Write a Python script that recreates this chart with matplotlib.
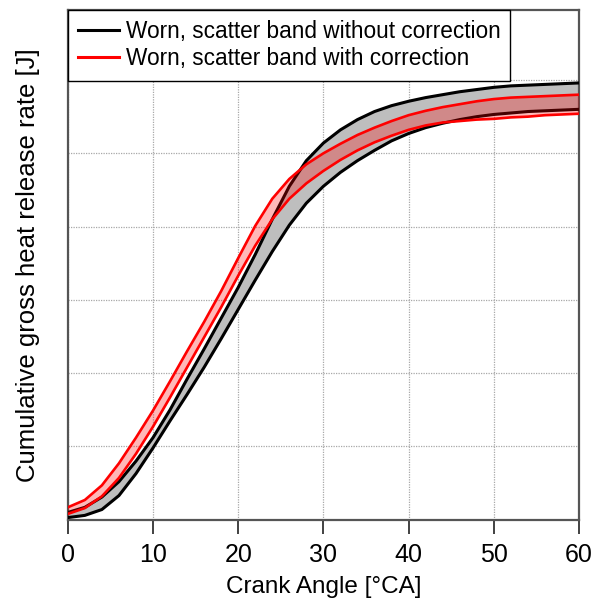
import matplotlib.pyplot as plt
import numpy as np
from matplotlib.lines import Line2D

plt.rcParams["font.family"] = ["Liberation Sans", "DejaVu Sans"]

# crank angle [°CA]
crank_angle = np.arange(0, 61, 2)

# scatter band without correction (black), in grid units
black_upper = [0.10, 0.17, 0.31, 0.52, 0.80, 1.12, 1.50, 1.92, 2.33, 2.75,
               3.17, 3.62, 4.10, 4.55, 4.90, 5.14, 5.32, 5.46, 5.57, 5.65,
               5.71, 5.76, 5.80, 5.84, 5.87, 5.90, 5.92, 5.93, 5.94, 5.95, 5.96]
black_lower = [0.03, 0.06, 0.14, 0.33, 0.63, 0.98, 1.35, 1.71, 2.08, 2.47,
               2.87, 3.27, 3.66, 4.02, 4.32, 4.55, 4.74, 4.90, 5.04, 5.17,
               5.27, 5.35, 5.41, 5.46, 5.50, 5.53, 5.55, 5.57, 5.58, 5.59, 5.60]

# scatter band with correction (red)
red_upper = [0.17, 0.27, 0.47, 0.77, 1.12, 1.49, 1.89, 2.30, 2.70, 3.12,
             3.57, 4.01, 4.38, 4.65, 4.85, 5.00, 5.13, 5.25, 5.35, 5.44,
             5.52, 5.58, 5.63, 5.67, 5.71, 5.74, 5.76, 5.77, 5.78, 5.79, 5.80]
red_lower = [0.08, 0.16, 0.32, 0.57, 0.90, 1.27, 1.67, 2.08, 2.49, 2.90,
             3.33, 3.74, 4.10, 4.38, 4.59, 4.76, 4.91, 5.04, 5.15, 5.24,
             5.32, 5.38, 5.42, 5.44, 5.46, 5.47, 5.49, 5.50, 5.52, 5.53, 5.54]

legend_labels = ["Worn, scatter band without correction",
                 "Worn, scatter band with correction"]

fig = plt.figure(figsize=(6.0, 6.03), dpi=100)
ax = fig.add_axes([0.113, 0.138, 0.852, 0.846])

# --- black band ---
ax.fill_between(crank_angle, black_lower, black_upper, color="#bebebe", lw=0, zorder=2)
for curve in (black_upper, black_lower):
    ax.plot(crank_angle, curve, color="black", lw=2.2, zorder=3,
            solid_joinstyle="round")

# --- red band ---
ax.fill_between(crank_angle, red_lower, red_upper, color="red", alpha=0.28, lw=0, zorder=4)
for curve in (red_upper, red_lower):
    ax.plot(crank_angle, curve, color="red", lw=1.9, zorder=5,
            solid_joinstyle="round")

ax.set_xlim(0, 60)
ax.set_ylim(0, 6.96)
ax.set_xticks(np.arange(0, 61, 10))
ax.set_yticks(np.arange(0, 7, 1))
ax.tick_params(axis="x", direction="out", length=10, width=1.3, labelsize=18,
               pad=7, color="#333333")
ax.tick_params(axis="y", length=0, labelleft=False)
ax.grid(True, color="#a8a8a8", linestyle=(0, (1, 1)), lw=0.9, zorder=1)

for side in ["left", "right", "top", "bottom"]:
    ax.spines[side].set_color("#555555")
    ax.spines[side].set_linewidth(1.6)

ax.set_xlabel("Crank Angle [°CA]", fontsize=17.5, labelpad=6)
ax.set_ylabel("Cumulative gross heat release rate [J]", fontsize=18.5, labelpad=20)

handles = [Line2D([0], [0], color="black", lw=2.2),
           Line2D([0], [0], color="red", lw=2.2)]
leg = ax.legend(handles, legend_labels, loc="upper left", borderaxespad=0,
                fontsize=16.3, frameon=True, fancybox=False, framealpha=1,
                handlelength=1.8, handletextpad=0.3, labelspacing=0.2,
                borderpad=0.45)
leg.get_frame().set_edgecolor("black")
leg.get_frame().set_linewidth(1.0)
leg.set_zorder(10)

fig.savefig("out.png", dpi=100)
